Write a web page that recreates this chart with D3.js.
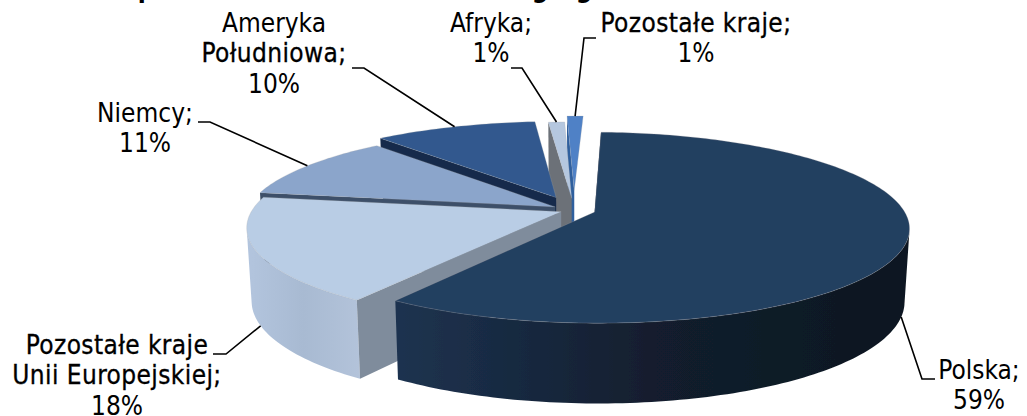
<!DOCTYPE html>
<html>
<head>
<meta charset="utf-8">
<script src="https://cdn.jsdelivr.net/npm/d3@7"></script>
<style>
  html, body { margin: 0; padding: 0; background: #fff; overflow: hidden; }
  text { font-family: "DejaVu Sans Condensed", "DejaVu Sans", sans-serif; font-size: 26px; fill: #000; }
  .mocny { stroke: #000; stroke-width: 0.3px; letter-spacing: 0.4px; }
  .tytul { font-weight: bold; }
</style>
</head>
<body>
<div id="chart"></div>
<script>
// Dane
const categories = ["Polska", "Pozostałe kraje Unii Europejskiej", "Niemcy", "Ameryka Południowa", "Afryka", "Pozostałe kraje"];
const shares = [59, 18, 11, 10, 1, 1];

// Wygląd wycinków, w tej samej kolejności
const explode = [0.07, 0.045, 0.07, 0.15, 0.13, 0.22];
const topColors = ["#243f60", "#b9cde5", "#8ba5cb", "#32598e", "#b5c7df", "#4f81c6"];
const sideColors = [["#1d3350", "#121e2e", "#0e1720"], ["#b3c5de", "#a8bad2", "#b3c3da"], ["#8ba5cb", "#8ba5cb"], ["#32598e", "#32598e"], ["#b5c7df", "#b5c7df"], ["#4f81c6", "#4f81c6"]];
const wallColors = ["#16263b", "#7f8c9c", "#3c4f69", "#182b4b", "#6c7178", "#2f5f9e"];

// Etykiety: linie tekstu, środek, pierwsza linia bazowa
const labelLines = [["Polska;", "59%"], ["Pozostałe kraje", "Unii Europejskiej;", "18%"], ["Niemcy;", "11%"], ["Ameryka", "Południowa;", "10%"], ["Afryka;", "1%"], ["Pozostałe kraje;", "1%"]];
const strongLines = ["Pozostałe kraje", "Unii Europejskiej;", "Południowa;", "Pozostałe kraje;"];
const labelX = [979, 117, 145, 274, 491, 696];
const labelY = [379, 354, 122, 32, 32, 32];
const lineStep = 30.3;
// Początek linii odniesienia i jej kolanko
const leaderStart = [[935, 379], [213, 354], [198, 122], [352, 68], [511, 68], [596, 38]];
const leaderKnee = [[922, 379], [226, 354], [210, 122], [364, 68], [522, 68], [584, 38]];
const leaderOnBase = [true, true, false, false, false, false];

// Z tytułu ucięty na górze widać tylko dolne części liter
const titleLetters = ["p", "g", "g"];
const titleX = [146, 540, 584];

const width = 1027, height = 416;
const rotation = 2 * Math.PI / 180;

// Rzut perspektywiczny koła
const cx = 574, cy = 210, rx = 309, ry = 92.3, persp = 0.163, depth = 72;

function project(u, v, z) {
  const w = 1 - persp * v;
  const s = z ? 0.985 : 1;
  return [cx + s * rx * u / w, cy + ry * v / w + z * depth * Math.pow(w, -0.6)];
}

const pie = d3.pie().sort(null).startAngle(rotation).endAngle(2 * Math.PI + rotation);
const arcs = pie(shares);

const svg = d3.select("#chart").append("svg")
  .attr("width", width)
  .attr("height", height);

const defs = svg.append("defs");
const line = d3.line();

// gradient ściany zewnętrznej
sideColors.forEach((c, i) => {
  const g = defs.append("linearGradient").attr("id", "side" + i);
  c.forEach((col, j) => {
    g.append("stop").attr("offset", j / (c.length - 1)).attr("stop-color", col);
  });
});
// lekkie zmiękczenie krawędzi, jak w oryginale
defs.append("filter").attr("id", "miekko")
  .append("feGaussianBlur").attr("stdDeviation", 0.4);

function slicePoints(d, i) {
  const mid = (d.startAngle + d.endAngle) / 2;
  const ox = explode[i] * Math.sin(mid), oy = -explode[i] * Math.cos(mid);
  const at = (a, z) => project(ox + Math.sin(a), oy - Math.cos(a), z);
  const angles = d3.range(d.startAngle, d.endAngle, 0.02).concat([d.endAngle]);
  return {
    apex: z => project(ox, oy, z),
    ring: z => angles.map(a => at(a, z)),
    at: at,
    mid: mid
  };
}

// Od tyłu do przodu
const order = d3.range(arcs.length).reverse();
const gSlices = svg.append("g").attr("filter", "url(#miekko)");

order.forEach(i => {
  const d = arcs[i], s = slicePoints(d, i);
  const g = gSlices.append("g").attr("class", "slice");
  const top = s.ring(0), bottom = s.ring(1);

  // ściana zewnętrzna: tylko czworokąty zwrócone do widza
  let side = "";
  for (let k = 0; k < top.length - 1; k++) {
    const quad = [top[k], top[k + 1], bottom[k + 1], bottom[k]];
    if (d3.polygonArea(quad) > 0) side += line(quad) + "Z";
  }
  if (side) {
    g.append("path")
      .attr("d", side)
      .attr("fill", "url(#side" + i + ")");
  }

  // widoczna jest tylko ściana promieniowa na początku wycinka
  g.append("path")
    .attr("d", line([s.apex(0), top[0], bottom[0], s.apex(1)]) + "Z")
    .attr("fill", wallColors[i]);

  g.append("path")
    .attr("d", line([s.apex(0)].concat(top)) + "Z")
    .attr("fill", topColors[i])
    .attr("stroke", "#a8a8a8")
    .attr("stroke-opacity", 0.35)
    .attr("stroke-width", 0.7);
});

// Linie odniesienia
arcs.forEach((d, i) => {
  const s = slicePoints(d, i);
  svg.append("path")
    .attr("d", line([leaderStart[i], leaderKnee[i], s.at(s.mid, leaderOnBase[i] ? 1 : 0)]))
    .attr("fill", "none")
    .attr("stroke", "#000")
    .attr("stroke-width", 1.6);
});

// Etykiety
labelLines.forEach((lines, i) => {
  const t = svg.append("text").attr("text-anchor", "middle");
  lines.forEach((l, j) => {
    t.append("tspan")
      .attr("x", labelX[i])
      .attr("y", labelY[i] + j * lineStep)
      .attr("class", strongLines.includes(l) ? "mocny" : null)
      .text(l);
  });
});

// Resztki tytułu
svg.selectAll(".tytul")
  .data(titleLetters)
  .enter().append("text")
  .attr("class", "tytul")
  .attr("text-anchor", "middle")
  .attr("x", (d, i) => titleX[i])
  .attr("y", -3)
  .text(d => d);
</script>
</body>
</html>
